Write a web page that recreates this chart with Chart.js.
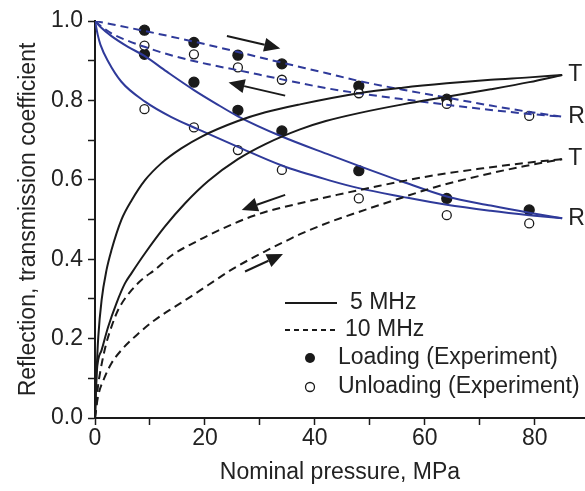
<!DOCTYPE html>
<html>
<head>
  <meta charset="UTF-8">
  <title>Reflection and transmission vs nominal pressure</title>
  <script src="https://cdn.jsdelivr.net/npm/chart.js"></script>
  <style>
    body { margin: 0; background: #fff; }
    canvas { display: block; }
  </style>
</head>
<body>
  <canvas id="chart" width="585" height="491"></canvas>

  <script>
    // experimental points (MPa)
    const pressure = [9, 18, 26, 34, 48, 64, 79];
    const loadingR10 = [0.977, 0.946, 0.914, 0.892, 0.836, 0.803, null];
    const loadingR5 = [0.916, 0.846, 0.775, 0.723, 0.623, 0.553, 0.524];
    const unloadingR10 = [0.938, 0.916, 0.883, 0.852, 0.818, 0.791, 0.761];
    const unloadingR5 = [0.778, 0.732, 0.675, 0.625, 0.553, 0.511, 0.490];

    // model curves [pressure, coefficient]
    const r5Loading = [[0, 1], [1, 0.985], [3, 0.962], [6, 0.935], [9, 0.912], [13, 0.873], [18, 0.826], [22, 0.792], [26, 0.76], [34, 0.709], [42.8, 0.662], [48, 0.635], [56, 0.595], [64, 0.558], [72, 0.535], [79, 0.517], [85, 0.503]];
    const r5Unloading = [[0, 1], [0.5, 0.965], [1, 0.94], [2.4, 0.898], [4.8, 0.847], [9.1, 0.797], [13.9, 0.758], [18.8, 0.727], [26, 0.683], [34, 0.636], [42.8, 0.598], [48, 0.579], [56, 0.557], [64, 0.537], [72, 0.522], [79, 0.511], [85, 0.503]];
    const r10Loading = [[0, 1], [9, 0.975], [18, 0.948], [26, 0.922], [34, 0.895], [42, 0.869], [48, 0.849], [56, 0.827], [64, 0.807], [72, 0.787], [79, 0.771], [85, 0.759]];
    const r10Unloading = [[0, 1], [1, 0.988], [3, 0.969], [6, 0.95], [9, 0.935], [14, 0.913], [20.6, 0.891], [26, 0.876], [34, 0.853], [42, 0.831], [48, 0.818], [56, 0.803], [64, 0.789], [72, 0.776], [79, 0.766], [85, 0.759]];
    const t5Unloading = [[0, 0], [0.3, 0.121], [0.6, 0.205], [1.2, 0.297], [2.1, 0.373], [3, 0.423], [4.8, 0.499], [6.7, 0.549], [9.1, 0.599], [12.1, 0.642], [15.7, 0.679], [19.4, 0.709], [26, 0.748], [31, 0.77], [37.3, 0.79], [48, 0.818], [56, 0.832], [64, 0.843], [72, 0.852], [79, 0.858], [85, 0.864]];
    const t5Loading = [[0, 0], [0.3, 0.113], [1.2, 0.171], [2.4, 0.23], [3.9, 0.289], [5.45, 0.339], [6.65, 0.365], [9.1, 0.415], [12.7, 0.482], [16.4, 0.541], [20.6, 0.597], [26, 0.652], [31, 0.69], [37.3, 0.727], [42, 0.748], [48, 0.768], [56, 0.79], [64, 0.809], [72, 0.828], [79, 0.846], [85, 0.864]];
    const t10Unloading = [[0, 0], [0.5, 0.075], [1, 0.12], [2, 0.185], [3, 0.23], [4.2, 0.272], [6.65, 0.322], [9, 0.354], [10.9, 0.373], [14, 0.41], [18.5, 0.445], [20.6, 0.46], [27.6, 0.503], [32, 0.523], [37.3, 0.541], [44, 0.562], [51.8, 0.585], [55.4, 0.595], [62, 0.612], [70.6, 0.629], [78, 0.642], [85, 0.652]];
    const t10Loading = [[0, 0], [0.5, 0.05], [1.8, 0.104], [3, 0.138], [4.8, 0.171], [7.9, 0.213], [10.9, 0.247], [14.5, 0.28], [17, 0.302], [20.6, 0.335], [25, 0.375], [30.7, 0.418], [34.9, 0.447], [37.3, 0.463], [42.8, 0.494], [48, 0.519], [55.4, 0.553], [62, 0.582], [70.6, 0.612], [78, 0.634], [85, 0.652]];

    // annotations: arrows [fromX, fromY, toX, toY] and end labels [text, y]
    const arrows = [[24, 0.962, 33.7, 0.931], [34.6, 0.812, 24.3, 0.845], [34.6, 0.562, 26.7, 0.524], [27.3, 0.369, 34.2, 0.413]];
    const endLabels = [['T', 0.864], ['R', 0.759], ['T', 0.652], ['R', 0.503]];
    const legendItems = ['5 MHz', '10 MHz', 'Loading (Experiment)', 'Unloading (Experiment)'];

    const FONT = 'Liberation Sans, Arial, Helvetica, sans-serif';
    const FS = 23;
    const BLUE = '#2f3a9a';
    const INK = '#1a1a1a';

    const toXY = arr => arr.map(p => ({ x: p[0], y: p[1] }));
    const pts = ys => pressure.map((x, i) => ({ x: x, y: ys[i] })).filter(p => p.y !== null);

    function curve(data, color, dashed) {
      return {
        data: toXY(data),
        borderColor: color,
        borderWidth: 2,
        borderDash: dashed ? [8, 5] : [],
        pointRadius: 0,
        fill: false,
        cubicInterpolationMode: 'monotone'
      };
    }

    function marks(ys, filled) {
      return {
        data: pts(ys),
        showLine: false,
        pointRadius: filled ? 5 : 4.5,
        pointBorderWidth: 1.3,
        pointBorderColor: INK,
        pointBackgroundColor: filled ? INK : '#fff'
      };
    }

    const extras = {
      id: 'extras',
      afterDatasetsDraw(chart) {
        const c = chart.ctx, xs = chart.scales.x, ys = chart.scales.y;
        c.save();
        c.strokeStyle = INK;
        c.fillStyle = INK;
        c.lineWidth = 2;
        arrows.forEach(a => {
          const x1 = xs.getPixelForValue(a[0]), y1 = ys.getPixelForValue(a[1]);
          const x2 = xs.getPixelForValue(a[2]), y2 = ys.getPixelForValue(a[3]);
          const ang = Math.atan2(y2 - y1, x2 - x1);
          const hl = 16, hw = 7;
          const bx = x2 - hl * Math.cos(ang), by = y2 - hl * Math.sin(ang);
          c.beginPath();
          c.moveTo(x1, y1);
          c.lineTo(bx, by);
          c.stroke();
          c.beginPath();
          c.moveTo(x2, y2);
          c.lineTo(bx + hw * Math.sin(ang), by - hw * Math.cos(ang));
          c.lineTo(bx - hw * Math.sin(ang), by + hw * Math.cos(ang));
          c.closePath();
          c.fill();
        });

        c.font = FS + 'px ' + FONT;
        c.textBaseline = 'middle';
        c.textAlign = 'left';
        c.fillStyle = '#222';
        endLabels.forEach(l => {
          c.fillText(l[0], xs.getPixelForValue(85) + 6, ys.getPixelForValue(l[1]));
        });

        // legend
        const rows = [303, 330, 358, 387];
        c.lineWidth = 2;
        c.strokeStyle = INK;
        c.beginPath();
        c.moveTo(285, rows[0]); c.lineTo(337, rows[0]);
        c.stroke();
        c.setLineDash([5, 4]);
        c.beginPath();
        c.moveTo(285, rows[1]); c.lineTo(339, rows[1]);
        c.stroke();
        c.setLineDash([]);
        c.beginPath();
        c.arc(310, rows[2], 5, 0, Math.PI * 2);
        c.fillStyle = INK;
        c.fill();
        c.beginPath();
        c.arc(310, rows[3], 4.5, 0, Math.PI * 2);
        c.lineWidth = 1.3;
        c.fillStyle = '#fff';
        c.fill();
        c.stroke();
        c.fillStyle = '#222';
        c.fillText(legendItems[0], 350, rows[0]);
        c.fillText(legendItems[1], 345, rows[1]);
        c.fillText(legendItems[2], 338, rows[2]);
        c.fillText(legendItems[3], 338, rows[3]);
        c.restore();
      }
    };

    const axisGrid = {
      drawOnChartArea: false,
      drawTicks: true,
      tickLength: 7,
      tickWidth: 1.5,
      tickColor: INK
    };

    new Chart(document.getElementById('chart'), {
      type: 'line',
      data: {
        datasets: [
          curve(t5Unloading, INK, false),
          curve(t5Loading, INK, false),
          curve(t10Unloading, INK, true),
          curve(t10Loading, INK, true),
          curve(r5Loading, BLUE, false),
          curve(r5Unloading, BLUE, false),
          curve(r10Loading, BLUE, true),
          curve(r10Unloading, BLUE, true),
          marks(unloadingR10, false),
          marks(unloadingR5, false),
          marks(loadingR10, true),
          marks(loadingR5, true)
        ]
      },
      options: {
        responsive: false,
        animation: false,
        devicePixelRatio: 1,
        layout: { autoPadding: false, padding: { top: 21, right: 0, left: 0, bottom: 0 } },
        plugins: { legend: { display: false }, tooltip: { enabled: false } },
        scales: {
          x: {
            type: 'linear',
            bounds: 'data',
            min: 0,
            max: 89.15,
            afterBuildTicks: s => { s.ticks = s.ticks.filter(t => t.value <= 85); },
            afterFit: s => { s.height = 73; s.paddingRight = 0; },
            ticks: {
              stepSize: 10,
              includeBounds: false,
              autoSkip: false,
              maxRotation: 0,
              padding: 0,
              color: '#222',
              font: { family: FONT, size: FS },
              callback: v => (v % 20 === 0 ? String(v) : '')
            },
            grid: axisGrid,
            border: { display: true, color: INK, width: 2 },
            title: {
              display: true,
              text: 'Nominal pressure, MPa',
              color: '#222',
              font: { family: FONT, size: FS },
              padding: { top: 0, bottom: 5 }
            }
          },
          y: {
            min: 0,
            max: 1,
            afterFit: s => { s.width = 95; },
            ticks: {
              stepSize: 0.1,
              padding: 5,
              color: '#222',
              font: { family: FONT, size: FS },
              callback: v => (Math.round(v * 10) % 2 === 0 ? v.toFixed(1) : '')
            },
            grid: axisGrid,
            border: { display: true, color: INK, width: 2 },
            title: {
              display: true,
              text: 'Reflection, transmission coefficient',
              color: '#222',
              font: { family: FONT, size: FS },
              padding: { top: 15, bottom: 0 }
            }
          }
        }
      },
      plugins: [extras]
    });
  </script>
</body>
</html>
